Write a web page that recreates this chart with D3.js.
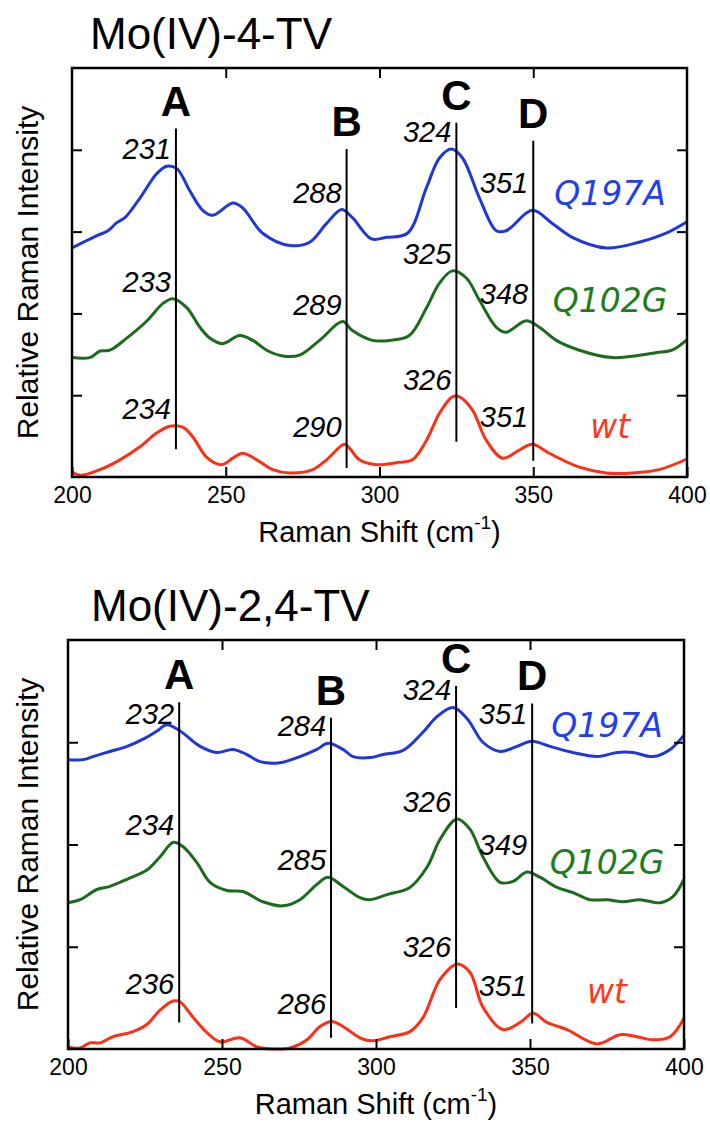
<head>
    <meta charset="utf-8">
    <style> body { margin: 0; background: #ffffff; } </style>
    <script src="https://d3js.org/d3.v7.min.js"></script>
</head>
<body>
<div id="chart"></div>
<script>

// ---- data: Mo(IV)-4-TV (top panel) ----
var topQ197A = [[200,2.80],[208.1,2.95],[211.7,3.01],[214.6,3.11],[217.2,3.17],[222.1,3.41],[227.6,3.71],[230.8,3.80],[234.1,3.77],[238.3,3.50],[242.5,3.26],[245.8,3.20],[252.3,3.35],[255.5,3.29],[262,2.98],[270.8,2.83],[277.3,2.87],[282.8,3.10],[287.7,3.27],[291.2,3.17],[297.4,2.91],[302.3,2.93],[309.1,2.98],[315.3,3.54],[319.5,3.90],[323.4,4.01],[327,3.90],[332.5,3.41],[338,3.01],[341.2,3.01],[349.7,3.26],[356.2,3.10],[362.7,2.93],[373.7,2.80],[384.4,2.87],[393.2,2.98],[400,3.12]];
var topQ102G = [[200,1.46],[205.8,1.46],[209.1,1.54],[212.3,1.55],[217.9,1.70],[224.4,1.91],[229.5,2.12],[232.8,2.18],[237.3,2.07],[241.6,1.83],[244.8,1.70],[249,1.63],[254.5,1.73],[258.8,1.67],[263.3,1.55],[268.5,1.48],[274,1.49],[280.5,1.67],[288,1.90],[291.2,1.79],[297.7,1.67],[303.3,1.67],[309.7,1.73],[315.3,2.07],[319.5,2.37],[323.7,2.52],[328.3,2.43],[332.5,2.16],[338,1.83],[341.2,1.77],[347.7,1.91],[352,1.83],[357.5,1.67],[365,1.55],[375.7,1.46],[389.9,1.52],[395.1,1.55],[400,1.68]];
var topWt = [[200,0.06],[202.6,0.02],[209.1,0.09],[215.6,0.21],[222.1,0.37],[227.6,0.54],[231.8,0.62],[236,0.61],[239.3,0.49],[243.8,0.24],[248.7,0.15],[252.3,0.23],[255.5,0.29],[260.1,0.21],[265.3,0.09],[270.8,0.05],[278.3,0.09],[282.8,0.21],[288.6,0.40],[290.3,0.35],[293.5,0.21],[299,0.15],[306.5,0.18],[310.7,0.21],[315.3,0.45],[319.5,0.78],[323.7,0.98],[326,0.98],[330.2,0.82],[334.7,0.45],[340,0.23],[345.5,0.33],[349.7,0.40],[355.2,0.29],[365,0.12],[373.7,0.05],[382.2,0.05],[390.9,0.09],[400,0.22]];
var topMarkers = [
    { id: "A", x: 233.8, y0: 0.34, y1: 4.26 },
    { id: "B", x: 289.3, y0: 0.11, y1: 4.01 },
    { id: "C", x: 325.0, y0: 0.43, y1: 4.33 },
    { id: "D", x: 350.0, y0: 0.20, y1: 4.11 }
];
var topPeaks = [["231","288","324","351"], ["233","289","325","348"], ["234","290","326","351"]];
var topNameY = [3.32, 2.02, 0.48];

// ---- data: Mo(IV)-2,4-TV (bottom panel) ----
var botQ197A = [[200,2.83],[204.9,2.83],[208.1,2.86],[213.6,2.91],[219.2,2.96],[224.4,3.03],[228.9,3.11],[232.1,3.17],[236.4,3.11],[242.9,2.96],[248.4,2.90],[253.6,2.93],[258.1,2.88],[262.3,2.81],[268.8,2.80],[275.3,2.86],[280.8,2.93],[284.4,2.99],[289.3,2.93],[292.5,2.86],[298.1,2.85],[302.3,2.88],[308.8,2.92],[315.3,3.10],[319.8,3.25],[325,3.34],[329.6,3.23],[334.7,3.00],[340.3,2.91],[345.8,2.96],[350.6,3.01],[356.5,2.96],[363.9,2.90],[371.8,2.86],[378.3,2.90],[383.4,2.90],[390,2.86],[395.5,2.93],[400,3.07]];
var botQ102G = [[200,1.43],[203.9,1.46],[209.4,1.56],[213.6,1.59],[219.2,1.66],[225.6,1.75],[229.9,1.88],[234.1,2.02],[237.3,1.98],[241.9,1.82],[246.1,1.63],[251.6,1.55],[256.8,1.54],[263.3,1.44],[269.8,1.40],[275.3,1.46],[280.8,1.61],[284.4,1.68],[289.3,1.59],[294.8,1.48],[298.1,1.46],[303.6,1.51],[311,1.58],[316.6,1.78],[320.8,2.05],[326.3,2.25],[330.5,2.15],[334.7,1.88],[340.3,1.63],[344.5,1.64],[349,1.73],[353.2,1.68],[358.8,1.58],[364,1.53],[369.5,1.46],[375,1.46],[380.2,1.44],[385.7,1.46],[392.2,1.43],[396.4,1.49],[400,1.66]];
var botWt = [[200,0.02],[203.9,0.01],[207.1,0.06],[210.4,0.06],[214.6,0.12],[221.1,0.17],[225.6,0.24],[229.9,0.38],[234.1,0.47],[236.4,0.46],[240.6,0.31],[245.1,0.16],[249.4,0.07],[255.8,0.11],[261.4,0.02],[266.6,0.00],[272.1,0.01],[277.6,0.09],[281.8,0.22],[285.7,0.27],[289.3,0.22],[294.8,0.11],[299,0.08],[304.5,0.12],[311,0.17],[315.3,0.31],[320.8,0.68],[326.3,0.83],[330.5,0.75],[334.7,0.41],[341.2,0.19],[346.8,0.26],[351,0.35],[355.5,0.26],[362,0.19],[371.8,0.05],[379.2,0.14],[384.7,0.12],[390,0.09],[395.5,0.12],[400,0.30]];
var botMarkers = [
    { id: "A", x: 236.1, y0: 0.26, y1: 3.39 },
    { id: "B", x: 285.4, y0: 0.11, y1: 3.24 },
    { id: "C", x: 326.0, y0: 0.40, y1: 3.55 },
    { id: "D", x: 350.7, y0: 0.25, y1: 3.38 }
];
var botPeaks = [["232","284","324","351"], ["234","285","326","349"], ["236","286","326","351"]];
var botNameY = [3.05, 1.71, 0.45];

var seriesNames = ["Q197A", "Q102G", "wt"];
var xTicks = [200, 250, 300, 350, 400];

// ---- styles / layout ----
var lineColors = ["#1f36dc", "#1c6b1c", "#ff2e14"];
var nameColors = ["#1f3ff0", "#1f7d1f", "#ff3a1c"];
var FONT = "Liberation Sans, Arial, sans-serif";

var panels = [
    { title: "Mo(IV)-4-TV", titleX: 90,
      left: 72, right: 687, top: 68, bottom: 477, yMax: 5, yTicks: [1,2,3,4],
      series: [topQ197A, topQ102G, topWt], markers: topMarkers, peaks: topPeaks, nameY: topNameY },
    { title: "Mo(IV)-2,4-TV", titleX: 91,
      left: 68, right: 684, top: 640, bottom: 1049, yMax: 4, yTicks: [1,2,3],
      series: [botQ197A, botQ102G, botWt], markers: botMarkers, peaks: botPeaks, nameY: botNameY }
];

var svg = d3.select("#chart").append("svg")
    .attr("width", 710)
    .attr("height", 1123)
    .style("background", "#fff");

panels.forEach(function(p) {

    var x = d3.scaleLinear().domain([200, 400]).range([p.left, p.right]);
    var y = d3.scaleLinear().domain([0, p.yMax]).range([p.bottom, p.top]);

    var g = svg.append("g");

    // title
    g.append("text")
        .attr("x", p.titleX)
        .attr("y", p.top - 19)
        .attr("font-family", FONT)
        .attr("font-size", 44)
        .attr("fill", "#000")
        .text(p.title);

    // curves
    var line = d3.line()
        .x(d => x(d[0]))
        .y(d => y(d[1]))
        .curve(d3.curveCatmullRom.alpha(0.5));

    p.series.forEach(function(s, i) {
        g.append("path")
            .datum(s)
            .attr("d", line)
            .attr("fill", "none")
            .attr("stroke", lineColors[i])
            .attr("stroke-width", 3)
            .attr("stroke-linejoin", "round");
    });

    // marker lines + letters
    p.markers.forEach(function(m) {
        g.append("line")
            .attr("x1", x(m.x)).attr("x2", x(m.x))
            .attr("y1", y(m.y0)).attr("y2", y(m.y1))
            .attr("stroke", "#000")
            .attr("stroke-width", 2);
        g.append("text")
            .attr("x", x(m.x))
            .attr("y", y(m.y1) - 13)
            .attr("text-anchor", "middle")
            .attr("font-family", FONT)
            .attr("font-weight", "bold")
            .attr("font-size", 42)
            .text(m.id);
    });

    // peak labels sit just above the curve, left of the marker line
    p.series.forEach(function(s, i) {
        p.markers.forEach(function(m, j) {
            var near = s.filter(d => Math.abs(d[0] - m.x) <= 3.5);
            var v = d3.max(near, d => d[1]);
            g.append("text")
                .attr("x", x(m.x) - 5)
                .attr("y", y(v) - (m.id == "D" ? 17 : 7))
                .attr("text-anchor", "end")
                .attr("font-family", FONT)
                .attr("font-style", "italic")
                .attr("font-size", 29)
                .attr("fill", "#000")
                .text(p.peaks[i][j]);
        });
    });

    // series names
    seriesNames.forEach(function(n, i) {
        g.append("text")
            .attr("x", x(375))
            .attr("y", y(p.nameY[i]))
            .attr("text-anchor", "middle")
            .attr("font-family", "DejaVu Sans, sans-serif")
            .attr("font-style", "italic")
            .attr("font-size", 33)
            .attr("fill", nameColors[i])
            .text(n);
    });

    // axes: ticks inside the frame
    var ax = g.append("g").attr("class", "axes");

    var xb = ax.append("g")
        .attr("transform", `translate(0,${p.bottom})`)
        .call(d3.axisBottom(x).tickValues(xTicks).tickSize(-10).tickSizeOuter(0).tickPadding(10).tickFormat(d3.format("d")));
    xb.selectAll("text")
        .attr("font-family", FONT)
        .attr("font-size", 23)
        .attr("fill", "#000");

    ax.append("g")
        .attr("transform", `translate(0,${p.top})`)
        .call(d3.axisTop(x).tickValues([250, 300, 350]).tickSize(-10).tickSizeOuter(0).tickFormat(""));

    ax.append("g")
        .attr("transform", `translate(${p.left},0)`)
        .call(d3.axisLeft(y).tickValues(p.yTicks).tickSize(-10).tickSizeOuter(0).tickFormat(""));

    ax.append("g")
        .attr("transform", `translate(${p.right},0)`)
        .call(d3.axisRight(y).tickValues(p.yTicks).tickSize(-10).tickSizeOuter(0).tickFormat(""));

    ax.selectAll("path.domain").remove();
    ax.selectAll("line").attr("stroke", "#000").attr("stroke-width", 2);

    // frame
    g.append("rect")
        .attr("x", p.left)
        .attr("y", p.top)
        .attr("width", p.right - p.left)
        .attr("height", p.bottom - p.top)
        .attr("fill", "none")
        .attr("stroke", "#000")
        .attr("stroke-width", 2.5);

    // axis titles
    var xl = g.append("text")
        .attr("x", (p.left + p.right) / 2)
        .attr("y", p.bottom + 65)
        .attr("text-anchor", "middle")
        .attr("font-family", FONT)
        .attr("font-size", 29)
        .attr("fill", "#000");
    xl.append("tspan").text("Raman Shift (cm");
    xl.append("tspan").attr("dy", -13).attr("font-size", 19).text("-1");
    xl.append("tspan").attr("dy", 13).text(")");

    g.append("text")
        .attr("transform", `translate(38,${(p.top + p.bottom) / 2}) rotate(-90)`)
        .attr("text-anchor", "middle")
        .attr("font-family", FONT)
        .attr("font-size", 30)
        .attr("fill", "#000")
        .text("Relative Raman Intensity");
});

</script>
</body>
